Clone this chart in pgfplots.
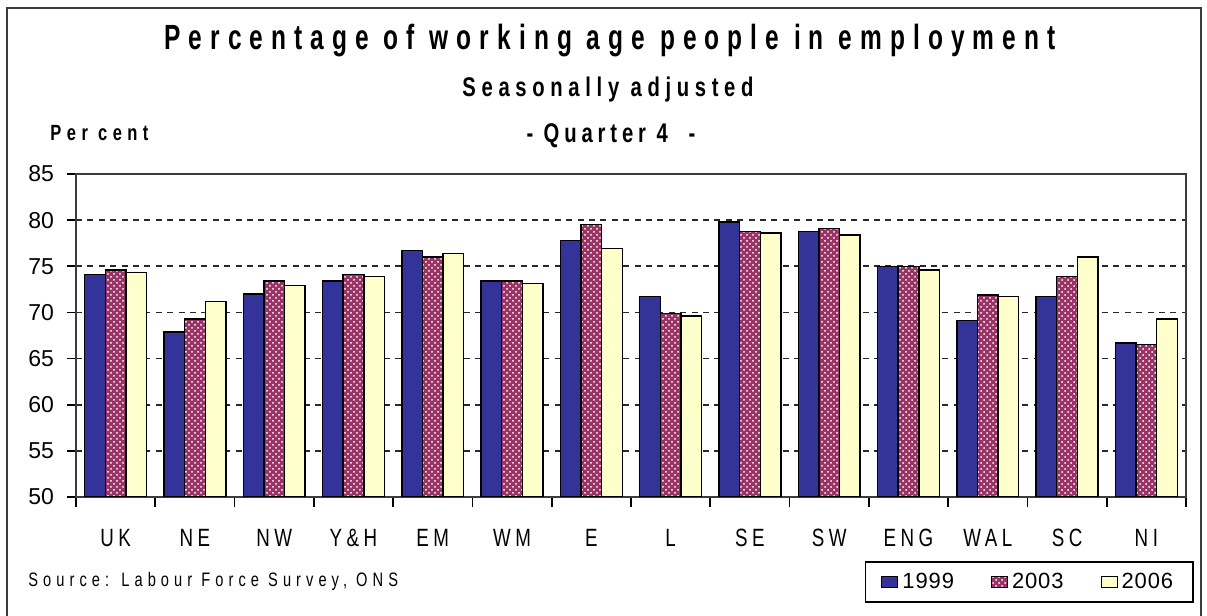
\documentclass[border=0pt]{standalone}
\usepackage{pgfplots}
\pgfplotsset{compat=1.18}
\usepackage{pgfplotstable}
\usetikzlibrary{patterns}
\usepackage{fontspec}
\setmainfont{Liberation Sans}
\newfontfamily\titlefont[FakeStretch=0.7,LetterSpace=23]{Liberation Sans}
\newfontfamily\subfont[FakeStretch=0.75,LetterSpace=21]{Liberation Sans}
\newfontfamily\quarterfont[FakeStretch=0.75,LetterSpace=18]{Liberation Sans}
\newfontfamily\percfont[FakeStretch=0.75,LetterSpace=25]{Liberation Sans}
\newfontfamily\xlabfont[FakeStretch=0.75,LetterSpace=18]{Liberation Sans}
\newfontfamily\srcfont[FakeStretch=0.75,LetterSpace=26]{Liberation Sans}
\newfontfamily\legfont[LetterSpace=4]{Liberation Sans}
\definecolor{c99}{RGB}{51,51,153}
\definecolor{c03}{RGB}{153,51,102}
\definecolor{c06}{RGB}{255,255,204}
\definecolor{gridc}{RGB}{40,40,40}
\definecolor{axisc}{RGB}{60,60,60}

\pgfplotstableread{
x y99 y03 y06
0 74.1 74.6 74.3
1 67.9 69.3 71.2
2 72.0 73.4 72.9
3 73.4 74.1 73.9
4 76.7 76.0 76.4
5 73.4 73.4 73.15
6 77.8 79.5 76.9
7 71.7 69.9 69.6
8 79.8 78.8 78.6
9 78.8 79.1 78.4
10 75.0 75.0 74.6
11 69.1 71.9 71.7
12 71.7 73.9 76.0
13 66.7 66.5 69.3
}\datatable

\begin{document}
\begin{tikzpicture}
\path[use as bounding box] (0,0) rectangle (603.5pt,308pt);
\draw[line width=1pt, draw=axisc] (3.5pt,-3pt) rectangle (600.3pt,304pt);
\begin{axis}[
  at={(38pt,59.5pt)}, anchor=south west,
  scale only axis, width=555pt, height=161.5pt,
  xmin=-0.5, xmax=13.5, ymin=50, ymax=85,
  ytick={50,55,...,85},
  xtick={0,...,13},
  xticklabels={UK,NE,NW,Y\&H,EM,WM,E,L,SE,SW,ENG,WAL,SC,NI},
  minor xtick={-0.5,0.5,...,13.5},
  major x tick style={draw=none},
  minor x tick style={line width=0.8pt, black},
  major y tick style={line width=0.8pt, black},
  tick align=outside,
  xtick pos=left, ytick pos=left,
  major tick length=4.5pt, minor tick length=5pt,
  ymajorgrids,
  grid style={line width=0.9pt, gridc, dash pattern=on 3pt off 2.7pt},
  axis line style={line width=1pt, draw=axisc},
  ybar=0pt, bar width=0.26,
  /pgf/number format/assume math mode=true,
  yticklabel style={font=\fontsize{11.5}{12}\selectfont, xshift=-3pt},
  xticklabel style={font=\xlabfont\fontsize{12.5}{13}\selectfont, yshift=-8pt},
  legend style={at={(1.0072,-0.198)}, anchor=north east, legend columns=3,
    draw=black, line width=0.8pt, font=\legfont\fontsize{11}{12}\selectfont,
    inner xsep=8pt, inner ysep=3.5pt,
    /tikz/every even column/.append style={column sep=16.5pt}},
  legend image code/.code={\draw[#1, line width=0.5pt] (0pt,-2.75pt) rectangle (8pt,2.75pt);},
]
\addplot[fill=c99, draw=black, line width=0.7pt] table[x=x,y=y99]{\datatable};
\addplot[preaction={fill=c03}, pattern=crosshatch dots, pattern color=white, draw=black, line width=0.7pt] table[x=x,y=y03]{\datatable};
\addplot[fill=c06, draw=black, line width=0.7pt] table[x=x,y=y06]{\datatable};
\legend{1999,2003,2006}
\end{axis}
\node[anchor=base, font=\titlefont\bfseries\fontsize{17.5}{20}\selectfont] at (305pt,283pt) {Percentage of working age people in employment};
\node[anchor=base, font=\subfont\bfseries\fontsize{13.5}{15}\selectfont] at (304pt,259.75pt) {Seasonally adjusted};
\node[anchor=base, font=\quarterfont\bfseries\fontsize{13.5}{15}\selectfont] at (305.5pt,236.5pt) {- Quarter 4\ \ -};
\node[anchor=base west, inner sep=0pt, font=\percfont\bfseries\fontsize{11}{12}\selectfont] at (25pt,237.6pt) {Per cent};
\node[anchor=base west, inner sep=0pt, font=\srcfont\fontsize{9.75}{11}\selectfont] at (14pt,14.6pt) {Source: Labour Force Survey, ONS};
\end{tikzpicture}
\end{document}
